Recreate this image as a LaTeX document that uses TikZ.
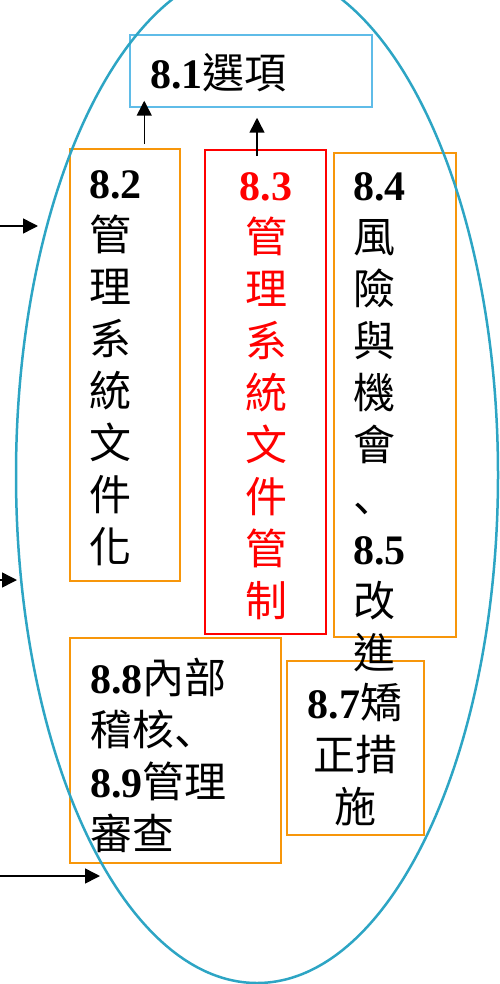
\documentclass[tikz,border=0pt]{standalone}
\usepackage{fontspec}
\setmainfont{Noto Sans CJK TC}
\newfontfamily\tnr{Liberation Serif}
\newfontfamily\cjksc{Noto Sans CJK SC}
\usetikzlibrary{arrows.meta}
\newcommand\secno[1]{{\tnr\bfseries #1}}
\newcommand\dun{{\cjksc 、}}
\definecolor{ovalblue}{RGB}{45,165,196}
\definecolor{boxorange}{RGB}{247,150,10}
\definecolor{boxblue}{RGB}{95,188,232}
\definecolor{boxred}{RGB}{255,0,0}
\tikzset{
  box/.style={draw=#1, rectangle, line width=1.5pt, inner sep=0pt},
  txt/.style={inner sep=0pt, font=\fontsize{42}{52}\selectfont},
  arr/.style={-{Triangle[width=15pt,length=15pt]}, line width=1.5pt},
}
\begin{document}
\begin{tikzpicture}[x=1pt,y=-1pt]
\useasboundingbox (0,0) rectangle (500,984);
% boxes
\node[box=boxblue, minimum width=242pt, minimum height=72pt] (sec81) at (251,71) {};
\node[box=boxorange, minimum width=110pt, minimum height=432pt] (sec82) at (125,365) {};
\node[box=boxred, minimum width=121pt, minimum height=484pt] (sec83) at (265.5,392) {};
\node[box=boxorange, minimum width=122pt, minimum height=484pt] (sec84) at (395,395) {};
\node[box=boxorange, minimum width=211pt, minimum height=225pt] (sec88) at (175.5,750.5) {};
\node[box=boxorange, minimum width=137pt, minimum height=174pt] (sec87) at (355.5,748) {};
% texts
\node[txt, anchor=north west] (t81) at (150,53) {\secno{8.1}選項};
\node[txt, anchor=north west, align=left] (t82) at (89,170)
  {\secno{8.2}\\管\\理\\系\\統\\文\\件\\化};
\node[txt, anchor=north, align=center, text=boxred] (t83) at (266,172)
  {\secno{8.3}\\管\\理\\系\\統\\文\\件\\管\\制};
\node[txt, anchor=north west, align=left] (t84) at (353,172)
  {\secno{8.4}\\風\\險\\與\\機\\會\\\dun\\\secno{8.5}\\改\\進};
\node[txt, anchor=north west, align=left] (t88) at (90,658)
  {\secno{8.8}內部\\稽核\dun\\\secno{8.9}管理\\審查};
\node[txt, anchor=north, align=center] (t87) at (355,683)
  {\secno{8.7}矯\\正措\\施};
% arrows
\draw[arr] ([xshift=75pt,yshift=4pt]sec82.north west) -- ([xshift=15pt,yshift=7pt]sec81.south west);
\draw[arr] ([xshift=-8.5pt,yshift=-7pt]sec83.north) -- ([xshift=6pt,yshift=-10pt]sec81.south);
\coordinate (in1) at (0,226);
\coordinate (in1e) at (38,226);
\coordinate (in2) at (0,580);
\coordinate (in2e) at (17,580);
\coordinate (in3) at (0,876);
\coordinate (in3e) at (100,876);
\draw[arr] (in1) -- (in1e);
\draw[arr] (in2) -- (in2e);
\draw[arr] (in3) -- (in3e);
% oval
\draw[ovalblue, line width=2.5pt] (257,475) ellipse [x radius=241pt, y radius=508pt];
\end{tikzpicture}
\end{document}
